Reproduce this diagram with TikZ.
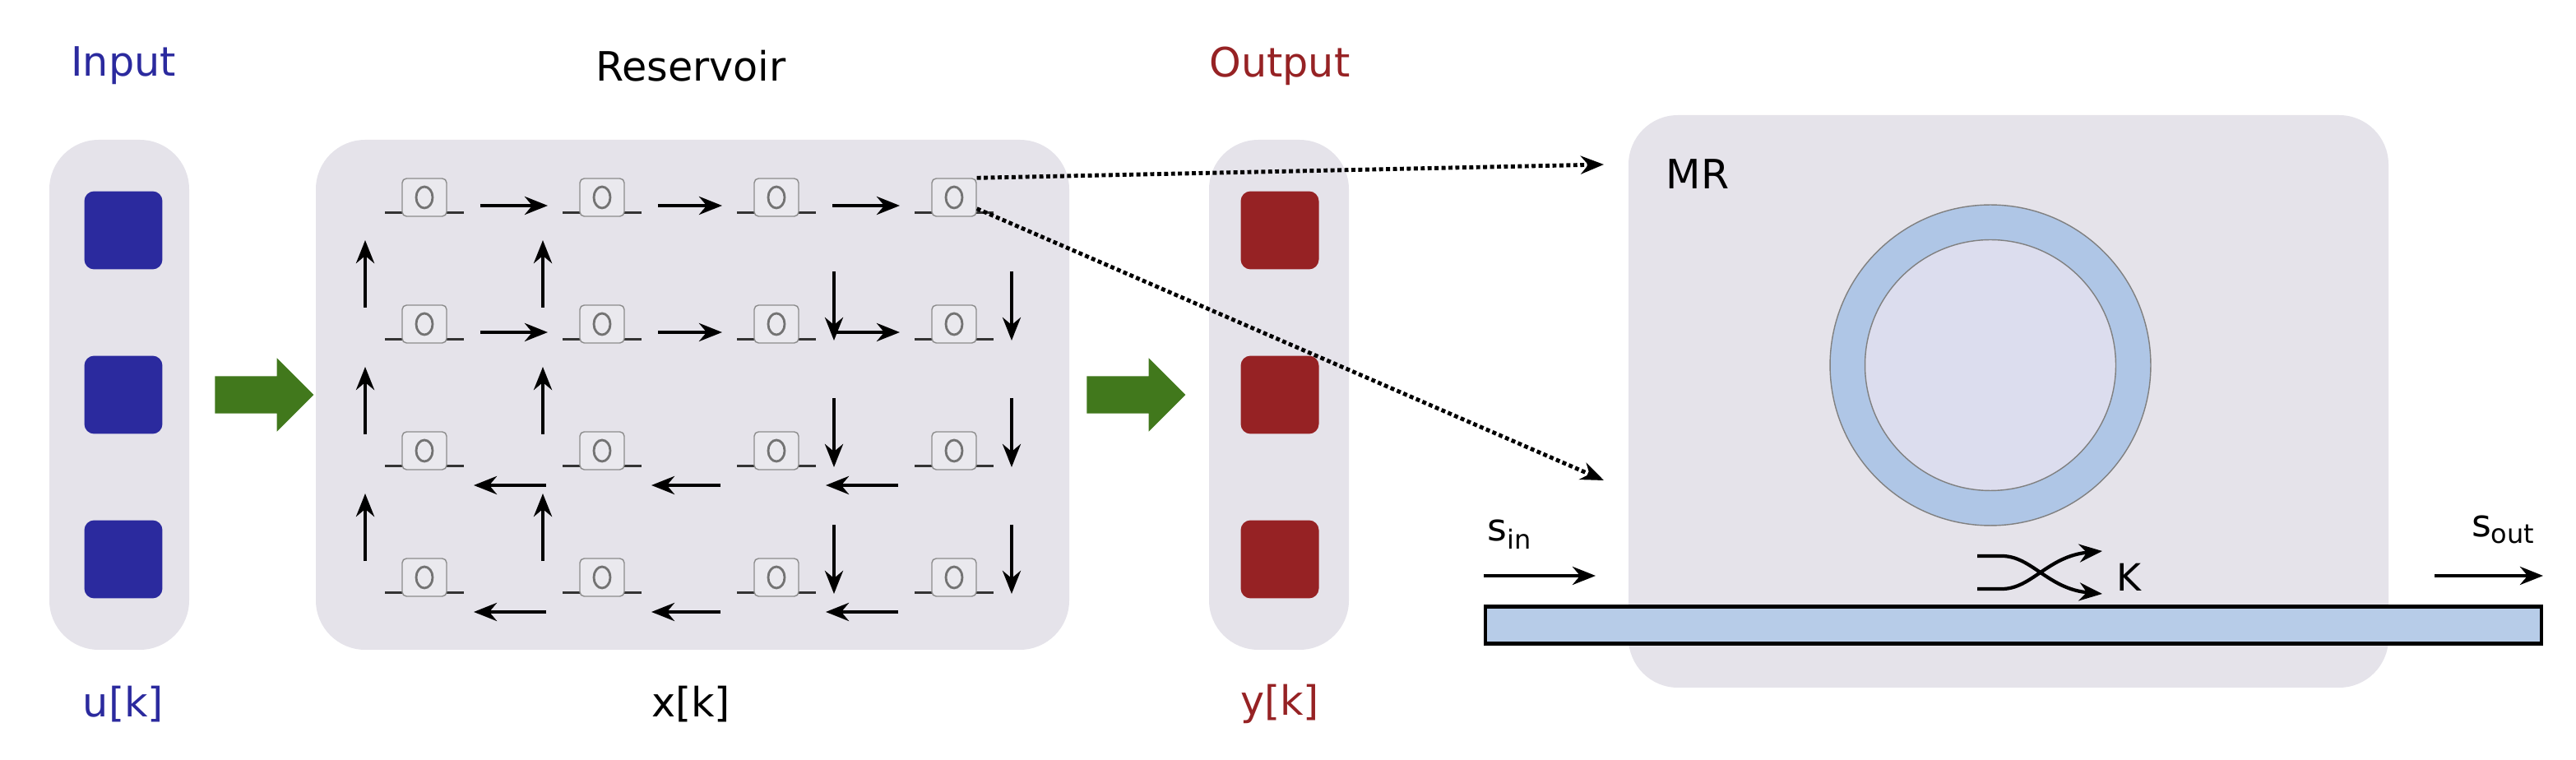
\documentclass[tikz,border=0pt]{standalone}
\usepackage{fontspec}
\setmainfont{DejaVu Sans}
\usetikzlibrary{arrows.meta,shapes.arrows,positioning}
\definecolor{panel}{HTML}{E5E3EA}
\definecolor{inblue}{HTML}{2B2A9E}
\definecolor{outred}{HTML}{962224}
\definecolor{ringblue}{HTML}{AFC6E6}
\definecolor{ringin}{HTML}{DCDDEE}
\definecolor{flowgreen}{HTML}{41781C}
\tikzset{
  panel/.style={fill=panel,rounded corners=0.6cm},
  unit/.style={rounded corners=0.12cm,minimum size=0.95cm},
  title/.style={font=\fontsize{14}{16}\selectfont},
  cell/.style={draw=black!45,fill=panel!80,minimum width=0.54cm,minimum height=0.46cm,
    rounded corners=1.5pt,inner sep=0pt,
    path picture={\draw[black!55,thick] (path picture bounding box.center) ellipse (0.1cm and 0.13cm);},
    append after command={
      \pgfextra{\draw[black!80,thick] ([xshift=-0.2cm,yshift=0.05cm]\tikzlastnode.south west)
        -- ([xshift=0.2cm,yshift=0.05cm]\tikzlastnode.south east);}}},
  link/.style={-{Stealth[length=0.28cm,width=0.22cm]},line width=1.4pt},
  flow/.style={single arrow,fill=flowgreen,minimum height=1.2cm,inner xsep=0pt,
    inner ysep=0.22cm,single arrow head extend=0.22cm},
  zoomline/.style={-{Stealth[length=0.28cm,width=0.22cm]},densely dotted,line width=1.4pt}
}
\begin{document}
\begin{tikzpicture}[x=0.02cm,y=-0.02cm]
  \useasboundingbox (0,0) rectangle (1566,462);
  % panels
  \fill[panel] (30,85) rectangle (115,395);
  \fill[panel] (192,85) rectangle (650,395);
  \fill[panel] (735,85) rectangle (820,395);
  \fill[panel] (990,70) rectangle (1452,418);
  % input and output units
  \foreach \i/\y in {1/140,2/240,3/340}{
    \node[unit,fill=inblue] (in\i) at (75,\y) {};
    \node[unit,fill=outred] (out\i) at (778,\y) {};
  }
  \node[title,text=inblue] (intitle) at (75,40) {Input};
  \node[title,text=inblue] (inlabel) at (75,428) {u[k]};
  \node[title] (restitle) at (420,40) {Reservoir};
  \node[title] (reslabel) at (420,428) {x[k]};
  \node[title,text=outred] (outtitle) at (778,40) {Output};
  \node[title,text=outred] (outlabel) at (778,428) {y[k]};
  \node[flow] (flowa) at (155,240) {};
  \node[flow] (flowb) at (685,240) {};
  % reservoir cells
  \foreach \r/\y in {1/120,2/197,3/274,4/351}{
    \foreach \c/\x in {1/258,2/366,3/472,4/580}{
      \node[cell] (c\r\c) at (\x,\y) {};
    }
  }
  % right and left links
  \foreach \r in {1,2}{
    \foreach \c/\n in {1/2,2/3,3/4}{
      \draw[link] ([xshift=0.68cm,yshift=-0.1cm]c\r\c.center) -- ([xshift=-0.66cm,yshift=-0.1cm]c\r\n.center);
    }
  }
  \foreach \r in {3,4}{
    \foreach \c/\n in {1/2,2/3,3/4}{
      \draw[link] ([xshift=-0.68cm,yshift=-0.42cm]c\r\n.center) -- ([xshift=0.6cm,yshift=-0.42cm]c\r\c.center);
    }
  }
  % up and down links
  \foreach \r/\n in {1/2,2/3,3/4}{
    \foreach \c in {1,2}{
      \draw[link] ([xshift=-0.72cm,yshift=0.2cm]c\n\c.center) -- ([xshift=-0.72cm,yshift=-0.52cm]c\r\c.center);
    }
    \foreach \c in {3,4}{
      \draw[link] ([xshift=0.7cm,yshift=-0.9cm]c\r\c.center) -- ([xshift=0.7cm,yshift=-0.2cm]c\n\c.center);
    }
  }
  % microring
  \node[title] (mr) at (1032,106) {MR};
  \node[circle,draw=black!50,fill=ringblue,minimum size=3.9cm] (ring) at (1210,222) {};
  \node[circle,draw=black!50,fill=ringin,minimum size=3.05cm] (hole) at (ring) {};
  \node[draw=black,line width=1.2pt,fill=ringblue!90,minimum width=12.84cm,minimum height=0.45cm,inner sep=0pt] (guide) at (1224,380) {};
  \coordinate (zoomtop) at (975,100);
  \coordinate (zoombot) at (975,292);
  \draw[zoomline] (c14.north east) -- (zoomtop);
  \draw[zoomline] ([yshift=0.1cm]c14.south east) -- (zoombot);
  % in, out and coupling
  \coordinate (sina) at (902,350);
  \coordinate (sinb) at (970,350);
  \coordinate (souta) at (1480,350);
  \coordinate (soutb) at (1546,350);
  \draw[link] (sina) -- (sinb);
  \draw[link] (souta) -- (soutb);
  \node[title,font=\fontsize{13}{15}\selectfont] (sin) at (918,325) {s\textsubscript{in}};
  \node[title,font=\fontsize{13}{15}\selectfont] (sout) at (1522,322) {s\textsubscript{out}};
  \coordinate (kl1) at (1202,338);
  \coordinate (kl2) at (1202,358);
  \coordinate (kr1) at (1278,335);
  \coordinate (kr2) at (1278,361);
  \draw[link,line width=1.2pt] (kl1) -- ++(15,0) .. controls (1235,338) and (1245,358) .. (kr2);
  \draw[link,line width=1.2pt] (kl2) -- ++(15,0) .. controls (1235,358) and (1245,338) .. (kr1);
  \node[title,font=\fontsize{13}{15}\selectfont,right=0.05cm of kr2,yshift=0.2cm] (kappa) {K};
\end{tikzpicture}
\end{document}
